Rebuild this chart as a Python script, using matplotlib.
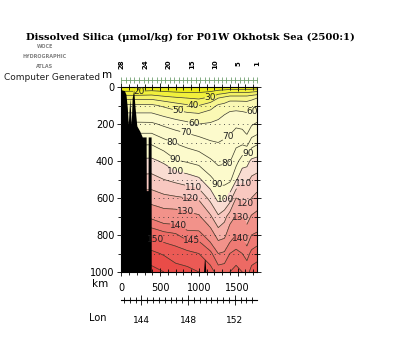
import numpy as np
import matplotlib
matplotlib.use("Agg")
import matplotlib.pyplot as plt
from matplotlib.colors import ListedColormap, BoundaryNorm

# ---------------- data ----------------
km_cols = [0, 200, 390, 550, 700, 850, 1000, 1150, 1250, 1330, 1400, 1480, 1560, 1620, 1680, 1750]
depth_rows = [0, 30, 60, 100, 150, 200, 250, 300, 400, 500, 600, 700, 800, 900, 1000]
silica = [
    [10, 10, 12, 12, 12, 12, 12, 12, 12, 12, 12, 12, 12, 12, 12, 12],
    [23, 23, 24, 22, 20.7, 20, 20, 21.7, 25.5, 27.4, 30, 30, 30, 30, 31.7, 33.8],
    [37, 37, 37.5, 34, 31.7, 30, 28.6, 32, 40, 43.3, 46, 46, 46, 46, 48, 50],
    [52, 52, 52, 48.3, 44.3, 41.3, 40, 45.7, 51.3, 52.9, 56, 56, 55.5, 55, 55.4, 55.8],
    [62, 62, 62, 58.2, 55.5, 53, 51.7, 54.7, 57.5, 60, 62.1, 63, 62.4, 61.5, 62.5, 63.8],
    [72, 72, 71.7, 68, 64.5, 62.3, 60, 61, 62.3, 63.8, 65.7, 68, 67.1, 65.4, 68.75, 71.4],
    [80, 80, 80, 75.7, 72.7, 70, 67.7, 66, 66.2, 67.7, 69.3, 72.7, 72.2, 69.2, 75.7, 78.6],
    [88, 88, 88.3, 82.9, 79.3, 76.3, 74.1, 71, 70, 71.4, 72.7, 77.3, 77.8, 75.7, 85, 88],
    [102, 102, 102.2, 98.3, 91, 88.8, 86.3, 81.3, 77.7, 78.6, 79.3, 86.4, 95, 96.7, 102, 103.3],
    [113, 113, 113.5, 110, 107.5, 105, 101.8, 92.2, 87, 86.7, 87.5, 98.6, 107.8, 107.3, 111.8, 113.6],
    [125, 125, 125.3, 122.5, 121.3, 120, 118.5, 106.7, 96.4, 97.5, 105, 120, 118, 116.4, 120.1, 123],
    [138, 138, 138.6, 135.7, 135.7, 133.3, 131.3, 121.4, 111.4, 116.7, 125, 130.9, 128.9, 126, 130.9, 133],
    [149, 149, 149, 147, 145.8, 142.3, 142.5, 135.7, 125.7, 127.5, 136.7, 140, 138.2, 135.5, 140, 141.3],
    [156, 156, 156.2, 154.4, 152.8, 151.5, 150, 146.4, 140, 141.4, 145, 146.5, 145, 143.1, 146.3, 147.5],
    [162, 162, 162, 160, 157, 156.5, 155, 152, 148, 148, 150, 152, 150, 148, 152, 153],
]
levels = [0, 10, 20, 30, 40, 50, 60, 70, 80, 90, 100, 110, 120, 130, 140, 145, 150, 155, 160, 170]
band_colors = ["#e4e400", "#ecec18", "#f1f03c", "#f4f268", "#f7f590", "#faf8b4",
               "#fcfacc", "#fcfacc", "#fcfacc", "#fcfacc",
               "#f9dcd2", "#f8c8c0", "#f5b0a8", "#f2928a", "#ef7a74", "#ed6a64",
               "#eb5a55", "#e94c48", "#e74040"]

bottom_km = [0, 40, 60, 77, 90, 110, 128, 140, 160, 175, 200, 240, 270, 320, 322, 345, 347,
             384, 386, 1060, 1072, 1080, 1090, 1750]
bottom_depth = [15, 20, 40, 110, 200, 60, 200, 60, 15, 100, 210, 240, 270, 270, 560, 560, 270,
                270, 1000, 1000, 930, 935, 1000, 1000]

station_km = [0, 55, 115, 170, 230, 290, 345, 400, 455, 510, 570, 625, 680, 740, 795, 850,
              905, 965, 1020, 1075, 1130, 1190, 1245, 1300, 1355, 1415, 1470, 1525, 1580,
              1640, 1695, 1750]
station_label_km = [5, 306, 607, 909, 1210, 1512, 1750]
station_labels = ["28", "24", "20", "15", "10", "5", "1"]

label_pos = [(230, 32), (1150, 55), (930, 100), (740, 118), (935, 195), (1690, 130),
             (830, 250), (1380, 275), (650, 310), (1380, 425), (680, 400), (1610, 355),
             (1260, 520), (700, 460), (1350, 610), (930, 540), (1570, 525), (900, 600),
             (1590, 635), (830, 675), (1540, 710), (745, 740), (1510, 830), (910, 810),
             (450, 810)]

km_ticks = [0, 500, 1000, 1500]
depth_ticks = [0, 200, 400, 600, 800, 1000]
lon_ticks = [144, 148, 152]

# ---------------- figure ----------------
fig = plt.figure(figsize=(4, 3.5), dpi=100)
fig.patch.set_facecolor("white")
ax = fig.add_axes([121.3 / 400, 1 - 272 / 350, (257 - 121.3) / 400, (272 - 87) / 350])

X, Y = np.meshgrid(km_cols, depth_rows)
Z = np.array(silica)
cmap = ListedColormap(band_colors)
norm = BoundaryNorm(levels, cmap.N)
ax.contourf(X, Y, Z, levels=levels, cmap=cmap, norm=norm, zorder=1)
cs = ax.contour(X, Y, Z, levels=levels[1:-1], colors="#3a3a2a", linewidths=0.5, zorder=2)

for d in range(100, 1000, 100):
    ax.plot([0, 1750], [d, d], color="#303030", lw=0.7, ls=(0, (0.8, 4)), zorder=3)

ax.fill_between(bottom_km, bottom_depth, 1000, color="black", lw=0, zorder=4)

ax.clabel(cs, fontsize=6.5, fmt="%g", inline=True, inline_spacing=0, manual=label_pos)
for t in cs.labelTexts:
    t.set_color("#202020")
    t.set_rotation(0)
    t.set_zorder(5)

ax.set_xlim(0, 1750)
ax.set_ylim(1000, 0)
ax.set_xticks(km_ticks)
ax.set_xticks(range(0, 1751, 100), minor=True)
ax.set_yticks(depth_ticks)
ax.set_yticks(range(0, 1001, 100), minor=True)
ax.tick_params(which="both", direction="inout", top=True, right=True, labelsize=7,
               width=0.6, colors="black")
ax.tick_params(which="major", length=6)
ax.tick_params(which="minor", length=4)
ax.tick_params(axis="x", labelbottom=True, pad=5)
ax.tick_params(axis="y", pad=2)
for s in ax.spines.values():
    s.set_linewidth(0.8)

# station line above the section
ax.plot([0, 1750], [-38, -38], color="#70a070", lw=0.6, clip_on=False, zorder=6)
ax.plot(station_km, [-38] * len(station_km), ls="none", marker="|", ms=4,
        mew=0.6, color="#70a070", clip_on=False)
for k, lab in zip(station_label_km, station_labels):
    ax.text(k, -125, lab, rotation=90, ha="center", va="center", fontsize=5,
            fontweight="bold")

# lon axis
lax = fig.add_axes([121.3 / 400, 1 - 300 / 350, (257 - 121.3) / 400, 0.0001])
lax.set_xlim(142.28, 153.9)
lax.set_yticks([])
for side in ["left", "right", "top"]:
    lax.spines[side].set_visible(False)
lax.spines["bottom"].set_linewidth(0.8)
lax.set_xticks(lon_ticks)
lax.set_xticks(np.arange(142.5, 154, 0.5), minor=True)
lax.tick_params(which="both", direction="inout", labelsize=6.5, width=0.6, pad=8)
lax.tick_params(which="major", length=7)
lax.tick_params(which="minor", length=5)
lax.patch.set_alpha(0)

# texts
fig.text(190 / 400, 1 - 37 / 350, "Dissolved Silica (\u03bcmol/kg) for P01W Okhotsk Sea (2500:1)",
         ha="center", va="center", fontsize=7.2, fontweight="bold", family="DejaVu Serif")
fig.text(45 / 400, 1 - 47 / 350, "WOCE", ha="center", va="center", fontsize=3.5,
         color="#808080", fontweight="bold")
fig.text(45 / 400, 1 - 57 / 350, "HYDROGRAPHIC", ha="center", va="center", fontsize=3.5,
         color="#808080", fontweight="bold")
fig.text(45 / 400, 1 - 67 / 350, "ATLAS", ha="center", va="center", fontsize=3.5,
         color="#808080", fontweight="bold")
fig.text(52 / 400, 1 - 78 / 350, "Computer Generated", ha="center", va="center",
         fontsize=6.5, color="#202020")
fig.text(107 / 400, 1 - 75 / 350, "m", ha="center", va="center", fontsize=7.5)
fig.text(100 / 400, 1 - 284 / 350, "km", ha="center", va="center", fontsize=7.5)
fig.text(98 / 400, 1 - 318 / 350, "Lon", ha="center", va="center", fontsize=7)

fig.savefig("out.png", dpi=100)
